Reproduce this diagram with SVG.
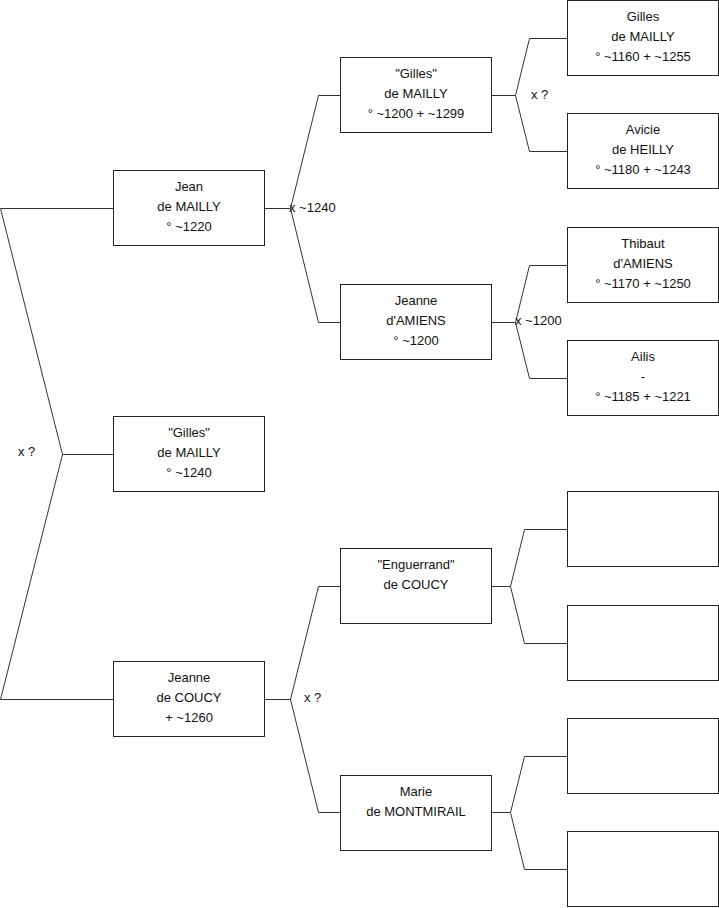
<svg xmlns="http://www.w3.org/2000/svg" width="719" height="908" viewBox="0 0 719 908">
<style>
.box{fill:#fff;stroke:#222;stroke-width:1}
.ln{fill:none;stroke:#333;stroke-width:1}
text{font-family:"Liberation Sans",Arial,sans-serif;font-size:13px;fill:#111}
.c{text-anchor:middle}
</style>
<rect width="719" height="908" fill="#fff"/>
<g id="connectors">
<polyline class="ln" points="113.5,208.5 0.5,208.5 62.5,454.5 0.5,699.5 113.5,699.5"/>
<line class="ln" x1="62.5" y1="454.5" x2="113.5" y2="454.5"/>
<polyline class="ln" points="264.5,208.5 290.5,208.5"/>
<polyline class="ln" points="340.5,95.5 318.5,95.5 290.5,208.5 318.5,322.5 340.5,322.5"/>
<polyline class="ln" points="264.5,699.5 290.5,699.5"/>
<polyline class="ln" points="340.5,586.5 318.5,586.5 290.5,699.5 318.5,812.5 340.5,812.5"/>
<polyline class="ln" points="491.5,95.5 515.5,95.5"/>
<polyline class="ln" points="567.5,38.5 529.5,38.5 515.5,95.5 529.5,151.5 567.5,151.5"/>
<polyline class="ln" points="491.5,322.5 515.5,322.5"/>
<polyline class="ln" points="567.5,265.5 529.5,265.5 515.5,322.5 529.5,378.5 567.5,378.5"/>
<polyline class="ln" points="491.5,586.5 510.5,586.5"/>
<polyline class="ln" points="567.5,529.5 524.5,529.5 510.5,586.5 524.5,643.5 567.5,643.5"/>
<polyline class="ln" points="491.5,812.5 510.5,812.5"/>
<polyline class="ln" points="567.5,756.5 524.5,756.5 510.5,812.5 524.5,869.5 567.5,869.5"/>
<text x="18" y="456">x ?</text>
<text x="289" y="212">x ~1240</text>
<text x="531" y="99">x ?</text>
<text x="515" y="325">x ~1200</text>
<text x="304" y="702">x ?</text>
</g>
<g id="jean">
<rect class="box" x="113.5" y="170.5" width="151" height="75"/>
<text class="c" x="189" y="191">Jean</text>
<text class="c" x="189" y="211">de MAILLY</text>
<text class="c" x="189" y="231">° ~1220</text>
</g>
<g id="gilles1240">
<rect class="box" x="113.5" y="416.5" width="151" height="75"/>
<text class="c" x="189" y="437">"Gilles"</text>
<text class="c" x="189" y="457">de MAILLY</text>
<text class="c" x="189" y="477">° ~1240</text>
</g>
<g id="jeanne-coucy">
<rect class="box" x="113.5" y="661.5" width="151" height="75"/>
<text class="c" x="189" y="682">Jeanne</text>
<text class="c" x="189" y="702">de COUCY</text>
<text class="c" x="189" y="722">+ ~1260</text>
</g>
<g id="gilles1200">
<rect class="box" x="340.5" y="57.5" width="151" height="75"/>
<text class="c" x="416" y="78">"Gilles"</text>
<text class="c" x="416" y="98">de MAILLY</text>
<text class="c" x="416" y="118">° ~1200 + ~1299</text>
</g>
<g id="jeanne-amiens">
<rect class="box" x="340.5" y="284.5" width="151" height="75"/>
<text class="c" x="416" y="305">Jeanne</text>
<text class="c" x="416" y="325">d'AMIENS</text>
<text class="c" x="416" y="345">° ~1200</text>
</g>
<g id="enguerrand">
<rect class="box" x="340.5" y="548.5" width="151" height="75"/>
<text class="c" x="416" y="569">"Enguerrand"</text>
<text class="c" x="416" y="589">de COUCY</text>
</g>
<g id="marie">
<rect class="box" x="340.5" y="775.5" width="151" height="75"/>
<text class="c" x="416" y="796">Marie</text>
<text class="c" x="416" y="816">de MONTMIRAIL</text>
</g>
<g id="gilles1160">
<rect class="box" x="567.5" y="0.5" width="151" height="75"/>
<text class="c" x="643" y="21">Gilles</text>
<text class="c" x="643" y="41">de MAILLY</text>
<text class="c" x="643" y="61">° ~1160 + ~1255</text>
</g>
<g id="avicie">
<rect class="box" x="567.5" y="113.5" width="151" height="75"/>
<text class="c" x="643" y="134">Avicie</text>
<text class="c" x="643" y="154">de HEILLY</text>
<text class="c" x="643" y="174">° ~1180 + ~1243</text>
</g>
<g id="thibaut">
<rect class="box" x="567.5" y="227.5" width="151" height="75"/>
<text class="c" x="643" y="248">Thibaut</text>
<text class="c" x="643" y="268">d'AMIENS</text>
<text class="c" x="643" y="288">° ~1170 + ~1250</text>
</g>
<g id="ailis">
<rect class="box" x="567.5" y="340.5" width="151" height="75"/>
<text class="c" x="643" y="361">Ailis</text>
<text class="c" x="643" y="381">-</text>
<text class="c" x="643" y="401">° ~1185 + ~1221</text>
</g>
<g id="empty1"><rect class="box" x="567.5" y="491.5" width="151" height="75"/></g>
<g id="empty2"><rect class="box" x="567.5" y="605.5" width="151" height="75"/></g>
<g id="empty3"><rect class="box" x="567.5" y="718.5" width="151" height="75"/></g>
<g id="empty4"><rect class="box" x="567.5" y="831.5" width="151" height="75"/></g>
</svg>
